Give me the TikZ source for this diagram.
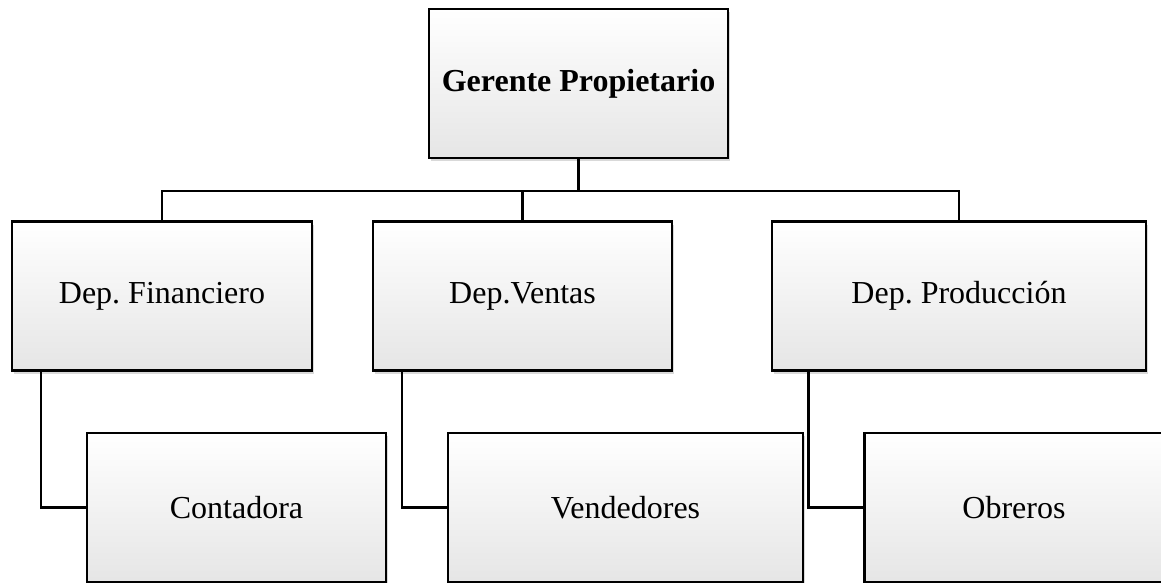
\documentclass[tikz,border=0pt]{standalone}
\usepackage{fontspec}
\setmainfont{Liberation Serif}
\frenchspacing
\usetikzlibrary{positioning,shadows,calc}
\tikzset{
  box/.style={draw=black,line width=2.2pt,align=center,top color=white,middle color=white,bottom color=black!10,minimum height=149pt,inner sep=4pt,font=\fontsize{32}{38}\selectfont,drop shadow={shadow xshift=2pt,shadow yshift=-3pt,opacity=0.3}},
  boss/.style={box,font=\fontsize{32}{38}\selectfont\bfseries},
  link/.style={line width=2.6pt,draw=black},
}

\begin{document}
\begin{tikzpicture}[x=1pt,y=-1pt]
    \clip (0,0) rectangle (1161,583);
    % top
    \node[boss,minimum width=299pt] (ger) at (578.5,83.5) {Gerente Propietario};
    % departments
    \node[box,minimum width=300pt] (fin) at (162,296) {Dep. Financiero};
    \node[box,minimum width=299pt] (ven) at (522.5,296) {Dep.Ventas};
    \node[box,minimum width=374pt] (pro) at (959,296) {Dep. Producción};
    % staff
    \node[box,minimum width=299pt] (con) at (236.5,507.5) {Contadora};
    \node[box,minimum width=355pt] (vnd) at (625.5,507.5) {Vendedores};
    \node[box,minimum width=299pt] (obr) at (1014,507.5) {Obreros};
    \draw[link] (ger.south) -- ++(0,32) coordinate (bar);
    \draw[link] (bar) -| (fin.north);
    \draw[link] (bar) -| (ven.north);
    \draw[link] (bar) -| (pro.north);
    \draw[link] ($(fin.south west)!0.1!(fin.south east)$) |- (con.west);
    \draw[link] ($(ven.south west)!0.1!(ven.south east)$) |- (vnd.west);
    \draw[link] ($(pro.south west)!0.1!(pro.south east)$) |- (obr.west);
  \end{tikzpicture}
\end{document}
